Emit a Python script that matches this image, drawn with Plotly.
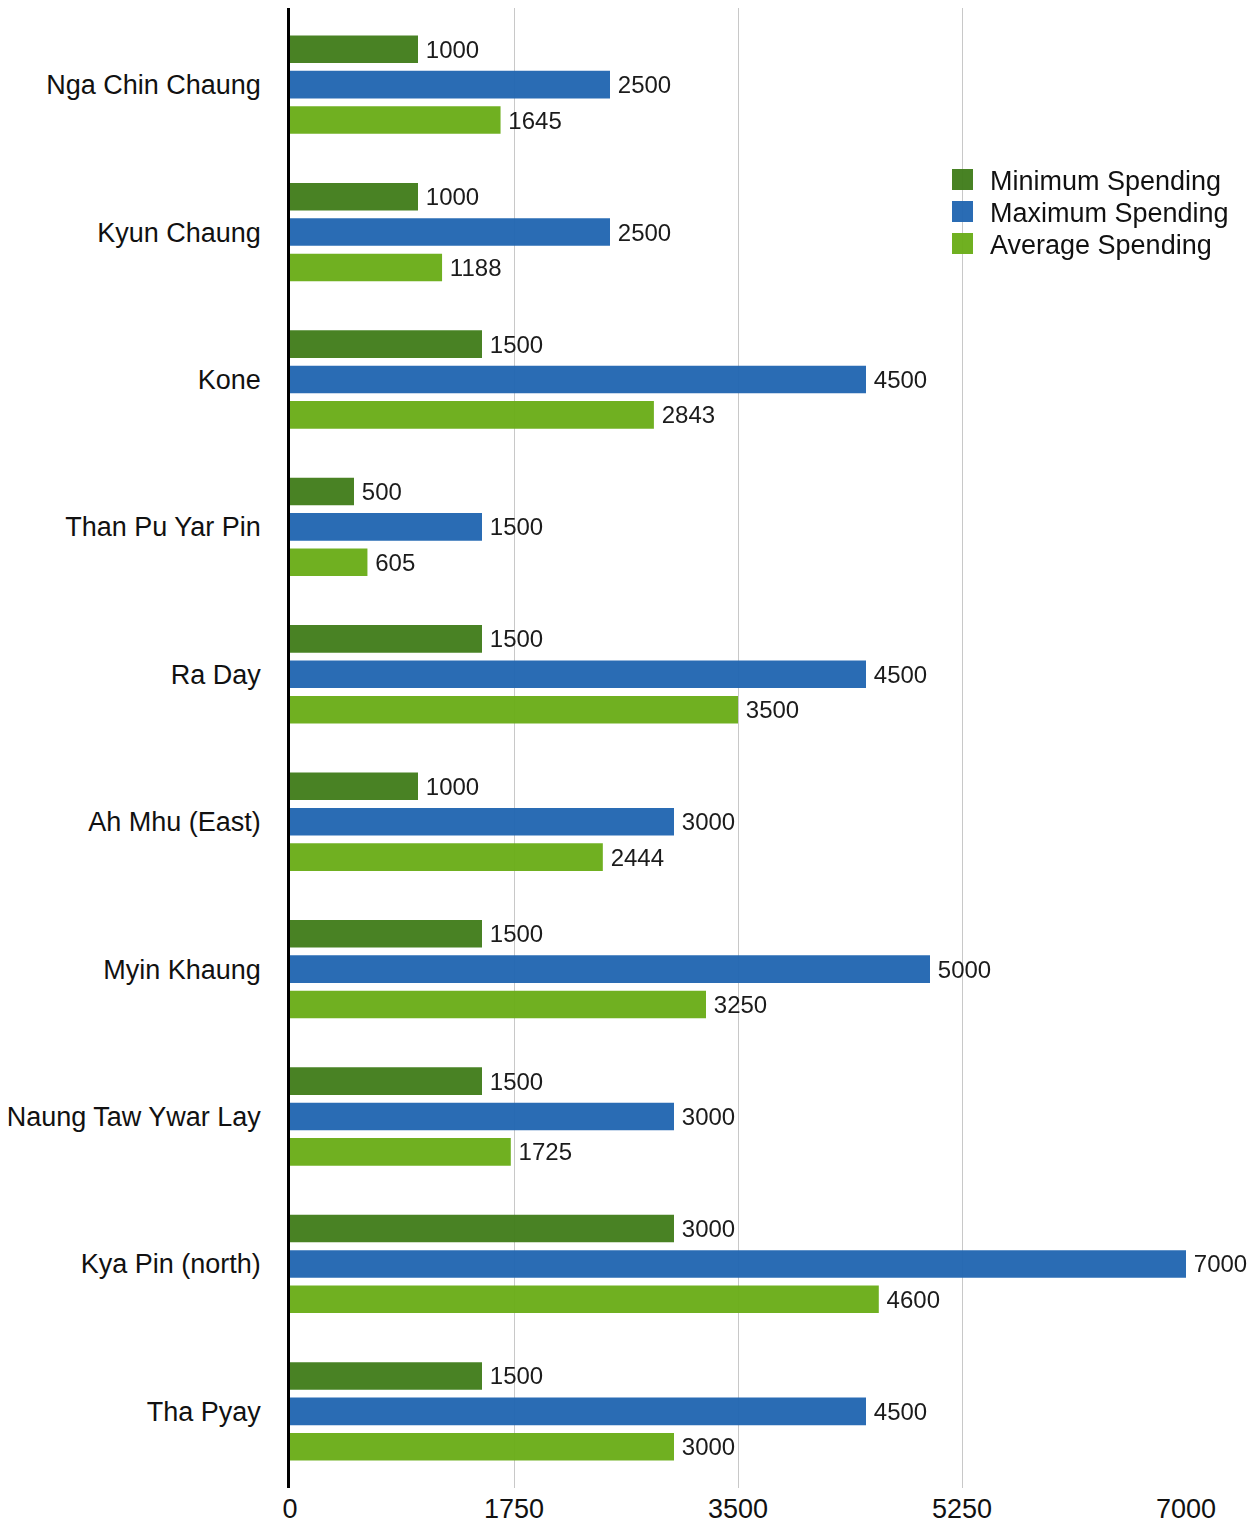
import plotly.graph_objects as go

# Villages, listed top to bottom
villages = [
    "Nga Chin Chaung", "Kyun Chaung", "Kone", "Than Pu Yar Pin", "Ra Day",
    "Ah Mhu (East)", "Myin Khaung", "Naung Taw Ywar Lay", "Kya Pin (north)", "Tha Pyay",
]
minimum_spending = [1000, 1000, 1500, 500, 1500, 1000, 1500, 1500, 3000, 1500]
maximum_spending = [2500, 2500, 4500, 1500, 4500, 3000, 5000, 3000, 7000, 4500]
average_spending = [1645, 1188, 2843, 605, 3500, 2444, 3250, 1725, 4600, 3000]

series_names = ["Minimum Spending", "Maximum Spending", "Average Spending"]
series_values = [minimum_spending, maximum_spending, average_spending]
series_colors = ["#417D1B", "#2166B1", "#6AAD18"]

x_ticks = [0, 1750, 3500, 5250, 7000]

FONT = "Liberation Sans, Arial, sans-serif"

fig = go.Figure()
for name, vals, color in zip(series_names, series_values, series_colors):
    fig.add_trace(go.Bar(
        y=villages, x=vals, name=name, orientation="h",
        marker=dict(color=color, line=dict(width=0)), opacity=0.96,
        text=["\u2009" + str(v) for v in vals], textposition="outside",
        textfont=dict(family=FONT, size=24, color="#111111"),
        cliponaxis=False, showlegend=False,
    ))

# Legend drawn as colour swatches with labels
legend_x0, legend_y0, legend_step = 952, 169, 32
plot_l, plot_r, plot_t, plot_b = 290, 1186, 8, 1488
W, H = 1251, 1525
pw, ph = plot_r - plot_l, plot_b - plot_t
for i, (name, color) in enumerate(zip(series_names, series_colors)):
    top = legend_y0 + i * legend_step
    fig.add_shape(
        type="rect", xref="paper", yref="paper",
        x0=(legend_x0 - plot_l) / pw, x1=(legend_x0 + 21 - plot_l) / pw,
        y0=1 - (top - plot_t) / ph, y1=1 - (top + 21 - plot_t) / ph,
        fillcolor=color, line=dict(width=0), opacity=0.96,
    )
    fig.add_annotation(
        xref="paper", yref="paper",
        x=(988 - plot_l) / pw, y=1 - (top + 12 - plot_t) / ph,
        xanchor="left", yanchor="middle", showarrow=False,
        text=name, font=dict(family=FONT, size=27, color="#111111"),
    )

fig.update_layout(
    width=W, height=H,
    margin=dict(l=plot_l, r=W - plot_r, t=plot_t, b=H - plot_b, pad=0),
    paper_bgcolor="white", plot_bgcolor="white",
    barmode="group", bargap=0.28, bargroupgap=0.22,
    font=dict(family=FONT, size=26, color="#111111"),
    showlegend=False,
)
fig.update_xaxes(
    range=[0, 7000], tickvals=x_ticks, ticktext=[str(t) for t in x_ticks],
    showgrid=True, gridcolor="#C8C8C8", gridwidth=1,
    zeroline=False, showline=False, ticks="", ticklabelstandoff=2,
    tickfont=dict(family=FONT, size=27, color="#111111"),
    automargin=False,
)
fig.update_yaxes(
    categoryorder="array", categoryarray=villages,
    range=[len(villages) - 0.48, -0.52],
    showgrid=False, zeroline=False,
    showline=True, linecolor="#000000", linewidth=2.5,
    ticks="", ticklabelstandoff=21,
    tickfont=dict(family=FONT, size=27, color="#111111"),
    automargin=False,
)

fig.write_html("out.html")
